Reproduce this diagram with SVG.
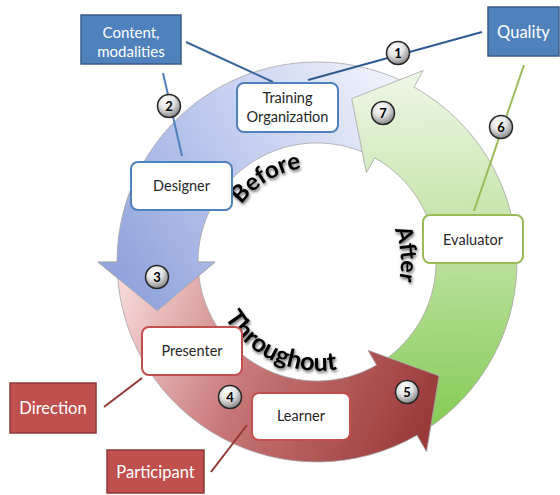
<svg xmlns="http://www.w3.org/2000/svg" width="560" height="495" viewBox="0 0 560 495">
<style>
.arrow{stroke:#a6a6a6;stroke-width:0.8;stroke-linejoin:miter}
.box{fill:#fff;stroke-width:2}
.lbl{font-family:Lato,"Liberation Sans",sans-serif;font-size:14.5px;fill:#262626;text-anchor:middle}
.wl{font-family:Lato,"Liberation Sans",sans-serif;fill:#fff;text-anchor:middle}
.big{font-family:Lato,"Open Sans","Liberation Sans",sans-serif;font-weight:bold;font-size:25px;fill:#000}
.ball{fill:url(#gBall);stroke:#262626;stroke-width:1.5}
.num{font-family:Lato,"Liberation Sans",sans-serif;font-weight:bold;font-size:13px;fill:#000;text-anchor:middle}
.con{fill:none;stroke-width:2}
</style>
<defs>
<linearGradient id="gBlue" gradientUnits="userSpaceOnUse" x1="420" y1="100" x2="130" y2="280">
<stop offset="0" stop-color="#f4f6fc"/><stop offset="0.5" stop-color="#c4cef0"/><stop offset="1" stop-color="#91a5dc"/>
</linearGradient>
<linearGradient id="gRed" gradientUnits="userSpaceOnUse" x1="130" y1="280" x2="430" y2="420">
<stop offset="0" stop-color="#f5d5d5"/><stop offset="0.45" stop-color="#c77575"/><stop offset="1" stop-color="#9a3a3a"/>
</linearGradient>
<linearGradient id="gGreen" gradientUnits="userSpaceOnUse" x1="400" y1="430" x2="390" y2="80">
<stop offset="0" stop-color="#85cb55"/><stop offset="0.5" stop-color="#bde19f"/><stop offset="1" stop-color="#ecf6e3"/>
</linearGradient>
<radialGradient id="gBall" cx="0.4" cy="0.3" r="0.75">
<stop offset="0" stop-color="#ffffff"/><stop offset="0.45" stop-color="#e4e4e4"/><stop offset="1" stop-color="#7a7a7a"/>
</radialGradient>
<filter id="sh" x="-20%" y="-20%" width="140%" height="140%">
<feGaussianBlur in="SourceAlpha" stdDeviation="1.5"/>
<feOffset dx="1" dy="1.5" result="b"/>
<feComponentTransfer><feFuncA type="linear" slope="0.6"/></feComponentTransfer>
<feMerge><feMergeNode/><feMergeNode in="SourceGraphic"/></feMerge>
</filter>
<path id="pBefore" d="M 222.4,253.7 A 95 95 0 0 1 357.1,175.9"/>
<path id="pThrough" d="M 209.1,265.8 A 110 110 0 0 0 375.3,355.3"/>
<path id="pAfter" d="M 359,189.3 A 84 84 0 0 1 371,326.3"/>
</defs>

<g id="ring">
<path class="arrow" fill="url(#gBlue)" d="M 157.3,310.8 L 98,262 L 117,262 A 200 200 0 0 1 404.7,82.2 L 369.2,155 A 119 119 0 0 0 198,262 L 215,262 Z"/>
<path class="arrow" fill="url(#gGreen)" d="M 425.9,429.7 A 200 200 0 0 0 414,87.1 L 423.2,70.5 L 351.7,98.7 L 366.4,172.8 L 374.7,157.9 A 119 119 0 0 1 381.8,361.8 Z"/>
<path class="arrow" fill="url(#gRed)" d="M 117.3,272.5 A 200 200 0 0 0 417,435.2 L 426.5,451.7 L 439.1,375.9 L 368,350.3 L 376.5,365.1 A 119 119 0 0 1 198.2,268.2 Z"/>
<path fill="url(#gBlue)" d="M 157.3,310.8 L 98,262 L 215,262 Z"/>
<path class="arrow" fill="none" d="M 117,262 L 98,262 L 157.3,310.8 L 215,262 L 198,262"/>
</g>

<g id="phase-labels" filter="url(#sh)">
<text class="big" style="font-size:24px"><textPath href="#pBefore" startOffset="49%" text-anchor="middle">Before</textPath></text>
<text class="big"><textPath href="#pThrough" startOffset="53%" text-anchor="middle">Throughout</textPath></text>
<text class="big" style="font-size:23px"><textPath href="#pAfter" startOffset="50%" text-anchor="middle">After</textPath></text>
</g>

<g id="connectors">
<line class="con" stroke="#3a6799" x1="186" y1="42" x2="273" y2="82"/>
<line class="con" stroke="#4f81bd" stroke-width="2.5" x1="163" y1="73" x2="182" y2="156"/>
<line class="con" stroke="#2e5a8e" x1="482" y1="32" x2="308" y2="80"/>
<line class="con" stroke="#9bbb59" x1="524" y1="65" x2="474" y2="211"/>
<line class="con" stroke="#943634" x1="104" y1="407" x2="142" y2="378"/>
<line class="con" stroke="#943634" x1="211" y1="472" x2="247" y2="425"/>
</g>

<g id="training-organization">
<rect class="box" stroke="#4f81bd" x="237" y="83" width="101" height="49" rx="7"/>
<text class="lbl" x="287.5" y="103">Training</text>
<text class="lbl" x="287.5" y="122">Organization</text>
</g>
<g id="designer">
<rect class="box" stroke="#4f81bd" x="131" y="162" width="101" height="48" rx="7"/>
<text class="lbl" x="181.5" y="191">Designer</text>
</g>
<g id="evaluator">
<rect class="box" stroke="#9bbb59" x="423" y="215" width="100" height="48" rx="7"/>
<text class="lbl" x="473" y="245">Evaluator</text>
</g>
<g id="presenter">
<rect class="box" stroke="#c0504d" x="142" y="327" width="100" height="48" rx="7"/>
<text class="lbl" x="192" y="356">Presenter</text>
</g>
<g id="learner">
<rect class="box" stroke="#c0504d" x="252" y="393" width="98" height="47" rx="7"/>
<text class="lbl" x="301" y="421">Learner</text>
</g>

<g id="content-modalities">
<rect x="81" y="15" width="100" height="49" fill="#4f81bd" stroke="#385d8a" stroke-width="1.5"/>
<text class="wl" x="131" y="38" font-size="15">Content,</text>
<text class="wl" x="131" y="57" font-size="15">modalities</text>
</g>
<g id="quality">
<rect x="488" y="7" width="71" height="49" fill="#4f81bd" stroke="#385d8a" stroke-width="1.5"/>
<text class="wl" x="523.5" y="38" font-size="16.5">Quality</text>
</g>
<g id="direction">
<rect x="10" y="383" width="86" height="50" fill="#c0504d" stroke="#8c3836" stroke-width="1.5"/>
<text class="wl" x="53" y="414" font-size="16.5">Direction</text>
</g>
<g id="participant">
<rect x="107" y="450" width="97" height="43" fill="#c0504d" stroke="#8c3836" stroke-width="1.5"/>
<text class="wl" x="155.5" y="478" font-size="16.5">Participant</text>
</g>

<g id="steps">
<circle class="ball" cx="398" cy="53" r="11.5"/><text class="num" x="398" y="57.5">1</text>
<circle class="ball" cx="169" cy="106" r="11.5"/><text class="num" x="169" y="110.5">2</text>
<circle class="ball" cx="157" cy="277" r="11.5"/><text class="num" x="157" y="281.5">3</text>
<circle class="ball" cx="230" cy="397" r="11.5"/><text class="num" x="230" y="401.5">4</text>
<circle class="ball" cx="407" cy="392" r="11.5"/><text class="num" x="407" y="396.5">5</text>
<circle class="ball" cx="501" cy="127" r="11.5"/><text class="num" x="501" y="131.5">6</text>
<circle class="ball" cx="383" cy="113" r="11.5"/><text class="num" x="383" y="117.5">7</text>
</g>
</svg>
